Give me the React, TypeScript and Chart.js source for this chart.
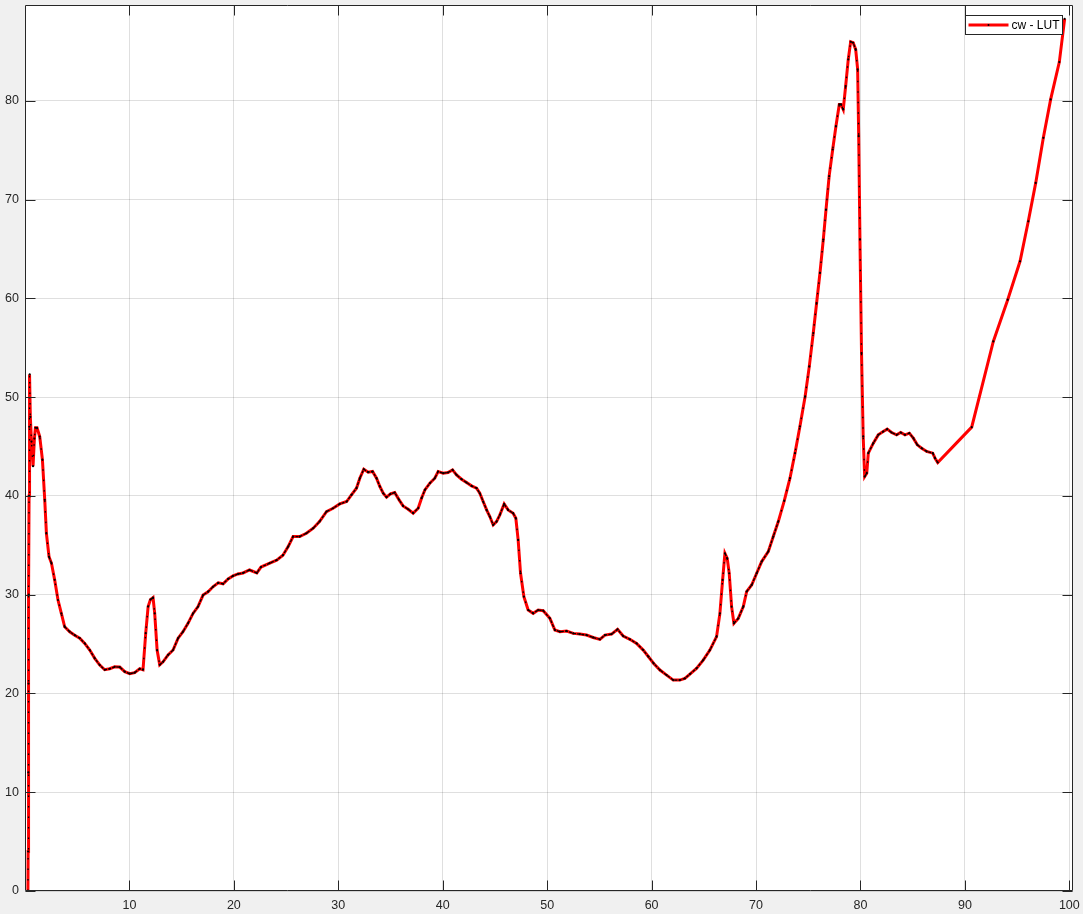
import React, { useEffect, useRef } from "react";
import { Chart, registerables } from "chart.js";

Chart.register(...registerables);

const seriesLabel = "cw - LUT";

const xValues = [
  0.28, 0.3, 0.32, 0.34, 0.36, 0.39, 0.42, 0.45, 0.51, 0.62, 0.77, 0.9, 1.0, 1.15, 1.41, 1.67, 1.89, 2.05,
  2.3, 2.53, 2.84, 3.16, 3.48, 3.8, 4.28, 4.76, 5.24, 5.72, 6.2, 6.68, 7.16, 7.63, 8.11, 8.59, 9.07, 9.55,
  10.03, 10.5, 10.99, 11.3, 11.56, 11.79, 12.01, 12.26, 12.42, 12.65, 12.9, 13.22, 13.7, 14.18, 14.66,
  15.13, 15.61, 16.09, 16.57, 17.05, 17.53, 18.0, 18.5, 18.97, 19.45, 19.92, 20.4, 20.88, 21.5, 22.2,
  22.6, 23.44, 24.1, 24.7, 25.2, 25.67, 26.3, 26.95, 27.6, 28.2, 28.87, 29.5, 30.14, 30.8, 31.26, 31.74,
  32.06, 32.44, 32.86, 33.28, 33.66, 33.98, 34.3, 34.62, 35.0, 35.4, 35.82, 36.2, 36.69, 37.17, 37.65,
  37.97, 38.29, 38.77, 39.24, 39.56, 40.04, 40.5, 40.94, 41.32, 41.8, 42.28, 42.76, 43.24, 43.55, 43.87,
  44.2, 44.51, 44.83, 45.15, 45.47, 45.88, 46.26, 46.74, 47.0, 47.22, 47.45, 47.77, 48.18, 48.66, 49.14,
  49.62, 50.26, 50.74, 51.22, 51.86, 52.5, 53.13, 53.77, 54.4, 55.05, 55.53, 56.17, 56.74, 57.28, 57.92,
  58.56, 59.2, 59.7, 60.2, 60.8, 61.44, 62.07, 62.7, 63.19, 63.67, 64.3, 64.94, 65.58, 66.22, 66.54,
  66.8, 67.02, 67.24, 67.43, 67.66, 67.88, 68.3, 68.78, 69.1, 69.58, 70.06, 70.54, 71.17, 71.65, 72.13,
  72.7, 73.25, 73.73, 74.2, 74.7, 75.1, 75.48, 75.8, 76.12, 76.44, 76.7, 77.0, 77.34, 77.65, 77.97,
  78.13, 78.35, 78.58, 78.83, 79.06, 79.3, 79.54, 79.73, 79.83, 79.95, 80.1, 80.26, 80.4, 80.6, 80.75,
  81.23, 81.7, 82.18, 82.56, 82.98, 83.46, 83.85, 84.26, 84.68, 85.06, 85.44, 85.86, 86.34, 86.92,
  87.14, 87.4, 90.65, 92.72, 94.1, 95.28, 96.07, 96.78, 97.51, 98.21, 99.04, 99.55,
];

const yValues = [
  0, 4, 12, 21, 30, 40, 47, 52.3, 48.0, 45.5, 43.0, 45.8, 46.9, 46.9, 46.0, 43.65, 39.6, 36.2,
  33.85, 33.2, 31.5, 29.46, 28.1, 26.75, 26.25, 25.9, 25.6, 25.07, 24.4, 23.55, 22.87, 22.4, 22.5, 22.7, 22.67, 22.2,
  22.0, 22.1, 22.5, 22.4, 26.1, 28.8, 29.5, 29.7, 28.1, 24.4, 22.9, 23.2, 23.9, 24.4, 25.6,
  26.25, 27.1, 28.1, 28.8, 29.96, 30.3, 30.8, 31.2, 31.1, 31.6, 31.9, 32.1, 32.2, 32.5, 32.2,
  32.8, 33.2, 33.5, 34.0, 34.87, 35.88, 35.88, 36.22, 36.73, 37.4, 38.41, 38.75, 39.19, 39.43, 40.1, 40.78,
  41.79, 42.7, 42.4, 42.47, 41.79, 40.95, 40.27, 39.87, 40.2, 40.34, 39.6, 38.99, 38.65, 38.25, 38.75,
  39.77, 40.61, 41.29, 41.79, 42.47, 42.3, 42.37, 42.64, 42.13, 41.69, 41.35, 41.02, 40.78, 40.27, 39.43,
  38.58, 37.91, 37.06, 37.4, 38.08, 39.19, 38.58, 38.25, 37.74, 35.54, 32.17, 29.8, 28.45, 28.11, 28.45,
  28.38, 27.6, 26.42, 26.25, 26.32, 26.08, 26.01, 25.91, 25.67, 25.48, 25.91, 26.01, 26.49, 25.81, 25.48,
  25.07, 24.39, 23.72, 23.04, 22.37, 21.86, 21.35, 21.35, 21.52, 21.96, 22.54, 23.38, 24.39, 25.75, 28.11,
  31.49, 34.19, 33.68, 32.17, 28.79, 27.1, 27.6, 28.79, 30.31, 30.98, 32.17, 33.35, 34.36, 35.88, 37.4,
  39.5, 41.79, 44.33, 47.03, 50.07, 53.11, 56.49, 59.53, 62.57, 65.95, 68.99, 72.37, 75.07, 77.43, 79.63,
  79.63, 79.12, 81.49, 84.19, 85.98, 85.88, 85.2, 83.18, 76.42, 65.95, 54.46, 46.02, 41.96, 42.3, 44.33,
  45.34, 46.18, 46.52, 46.76, 46.42, 46.18, 46.42, 46.18, 46.35, 45.85, 45.17, 44.83, 44.5, 44.33,
  43.82, 43.38, 46.96, 55.64, 59.87, 63.75, 67.8, 71.69, 76.25, 80.14, 83.92, 88.3,
];

const measuredEndX = 87.4;
const xTickValues = [10, 20, 30, 40, 50, 60, 70, 80, 90, 100];
const yTickValues = [0, 10, 20, 30, 40, 50, 60, 70, 80];
const xMin = 0;
const xMax = 100.35;
const yMin = 0;
const yMax = 89.7;

const FONT = "'Liberation Sans', Arial, Helvetica, sans-serif";
const AXIS_COLOR = "#262626";

const backgroundPlugin = {
  id: "bg",
  beforeDraw(chart: any) {
    const { ctx, chartArea: a } = chart;
    ctx.save();
    ctx.fillStyle = "#f0f0f0";
    ctx.fillRect(0, 0, chart.width, chart.height);
    ctx.fillStyle = "#ffffff";
    ctx.fillRect(a.left, a.top, a.right - a.left, a.bottom - a.top);
    ctx.restore();
  },
};

const framePlugin = {
  id: "frame",
  afterDatasetsDraw(chart: any) {
    const { ctx, chartArea: a, scales } = chart;
    ctx.save();
    ctx.strokeStyle = AXIS_COLOR;
    ctx.lineWidth = 1;
    const L = Math.round(a.left) + 0.5;
    const R = Math.round(a.right) - 0.5;
    const T = Math.round(a.top) + 0.5;
    const B = Math.round(a.bottom) - 0.5;
    ctx.beginPath();
    ctx.rect(L, T, R - L, B - T);
    const tl = 10;
    for (const v of xTickValues) {
      const px = Math.round(scales.x.getPixelForValue(v)) + 0.5;
      ctx.moveTo(px, B);
      ctx.lineTo(px, B - tl);
      ctx.moveTo(px, T);
      ctx.lineTo(px, T + tl);
    }
    for (const v of yTickValues) {
      const py = Math.round(scales.y.getPixelForValue(v)) + 0.5;
      ctx.moveTo(L, py);
      ctx.lineTo(L + tl, py);
      ctx.moveTo(R, py);
      ctx.lineTo(R - tl, py);
    }
    ctx.stroke();
    ctx.restore();
  },
  afterDraw(chart: any) {
    const { ctx, chartArea: a } = chart;
    const ds = chart.data.datasets[1];
    ctx.save();
    const bx = Math.round(a.right) - 107.5;
    const by = Math.round(a.top) + 10.5;
    const bw = 97;
    const bh = 19;
    ctx.fillStyle = "#ffffff";
    ctx.fillRect(bx, by, bw, bh);
    ctx.strokeStyle = AXIS_COLOR;
    ctx.lineWidth = 1;
    ctx.strokeRect(bx, by, bw, bh);
    const ly = by + 9.5;
    ctx.strokeStyle = ds.borderColor;
    ctx.lineWidth = 3;
    ctx.beginPath();
    ctx.moveTo(bx + 3, ly);
    ctx.lineTo(bx + 43, ly);
    ctx.stroke();
    ctx.fillStyle = "#000";
    ctx.beginPath();
    ctx.arc(bx + 23, ly, 1, 0, Math.PI * 2);
    ctx.fill();
    ctx.fillStyle = "#000";
    ctx.font = `12px ${FONT}`;
    ctx.textBaseline = "middle";
    ctx.textAlign = "left";
    ctx.fillText(ds.label, bx + 46, ly + 1);
    ctx.restore();
  },
};

export default function App() {
  const ref = useRef<HTMLCanvasElement>(null);

  useEffect(() => {
    document.body.style.margin = "0";
    document.body.style.background = "#f0f0f0";
    const lutData = xValues.map((x, i) => ({ x, y: yValues[i] }));
    const measured = lutData.filter((p) => p.x <= measuredEndX);

    const tickFont = { family: FONT, size: 12.5 };
    const zeroPad = (s: any) => {
      s.paddingTop = 0;
      s.paddingBottom = 0;
      s.paddingLeft = 0;
      s.paddingRight = 0;
    };

    const chart = new Chart(ref.current as HTMLCanvasElement, {
      type: "line",
      data: {
        datasets: [
          {
            label: "measured",
            data: measured,
            borderColor: "#000000",
            borderWidth: 1.3,
            pointRadius: 0,
            tension: 0,
            order: 1,
            segment: {
              borderDash: (c: any) => {
                const dx = Math.abs(c.p1.x - c.p0.x);
                const dy = Math.abs(c.p1.y - c.p0.y);
                return dy > 3 * dx ? [1.5, 9] : [3, 1.2];
              },
            },
          } as any,
          {
            label: seriesLabel,
            data: lutData,
            borderColor: "#ff0000",
            borderWidth: 3,
            pointRadius: 1.1,
            pointBackgroundColor: "#000000",
            pointBorderWidth: 0,
            pointHoverRadius: 0,
            tension: 0,
            order: 2,
          },
        ],
      },
      options: {
        animation: false,
        responsive: false,
        events: [],
        layout: { padding: { top: 5, right: 10, left: 0, bottom: 0 } },
        plugins: {
          legend: { display: false },
          tooltip: { enabled: false },
          title: { display: false },
        },
        scales: {
          x: {
            type: "linear",
            min: xMin,
            max: xMax,
            afterBuildTicks: (s: any) => {
              s.ticks = xTickValues.map((v) => ({ value: v }));
            },
            afterFit: (s: any) => {
              s.height = 23;
              zeroPad(s);
            },
            grid: { color: "rgba(38,38,38,0.15)", lineWidth: 1, drawTicks: false },
            border: { display: false },
            ticks: {
              padding: 7,
              font: tickFont,
              color: AXIS_COLOR,
              maxRotation: 0,
              autoSkip: false,
              callback: (v: any) => String(v),
            },
          },
          y: {
            type: "linear",
            min: yMin,
            max: yMax,
            afterBuildTicks: (s: any) => {
              s.ticks = yTickValues.map((v) => ({ value: v }));
            },
            afterFit: (s: any) => {
              s.width = 25;
              zeroPad(s);
            },
            grid: { color: "rgba(38,38,38,0.15)", lineWidth: 1, drawTicks: false },
            border: { display: false },
            ticks: {
              padding: 6,
              font: tickFont,
              color: AXIS_COLOR,
              autoSkip: false,
              callback: (v: any) => String(v),
            },
          },
        },
      } as any,
      plugins: [backgroundPlugin, framePlugin],
    });
    return () => chart.destroy();
  }, []);

  return (
    <div style={{ position: "fixed", left: 0, top: 0, width: 1083, height: 914, background: "#f0f0f0" }}>
      <canvas ref={ref} width={1083} height={914} style={{ display: "block" }} />
    </div>
  );
}
